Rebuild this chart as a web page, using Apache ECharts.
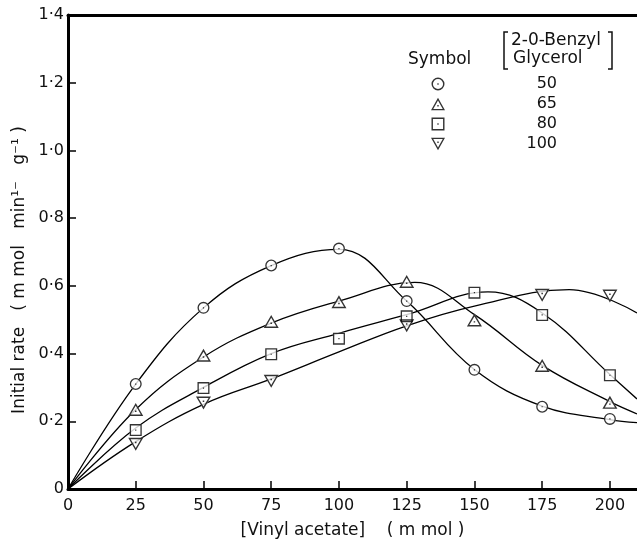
<!DOCTYPE html>
<html>
<head>
<meta charset="utf-8">
<script src="https://cdn.jsdelivr.net/npm/echarts@6/dist/echarts.min.js"></script>
<style>
  html, body { margin: 0; padding: 0; background: #fff; }
  #chart { width: 637px; height: 544px; }
</style>
</head>
<body>
<div id="chart"></div>
<script>
// [Vinyl acetate] (m mol) where the rates were measured
var vinylAcetate = [25, 50, 75, 100, 125, 150, 175, 200]

// measured initial rates, one array per [2-0-Benzyl Glycerol]
var rate50 = [0.31, 0.535, 0.66, 0.71, 0.555, 0.352, 0.243, 0.207]
var rate65 = [0.235, 0.395, 0.495, 0.553, 0.613, 0.499, 0.365, 0.256]
var rate80 = [0.174, 0.298, 0.398, 0.444, 0.51, 0.58, 0.514, 0.336]
var rate100 = [0.132, 0.254, 0.318, null, 0.482, null, 0.572, 0.57]

// fitted curves as drawn in the figure, [x, y]
var curve50 = [[0, 0], [25, 0.31], [50, 0.535], [75, 0.66], [100, 0.708], [125, 0.555],
  [150, 0.353], [175, 0.245], [200, 0.205], [210, 0.196]]
var curve65 = [[0, 0], [25, 0.235], [50, 0.39], [75, 0.49], [100, 0.555], [128, 0.61],
  [150, 0.515], [175, 0.365], [200, 0.258], [210, 0.222]]
var curve80 = [[0, 0], [25, 0.18], [50, 0.3], [75, 0.4], [100, 0.46], [125, 0.515], [155, 0.582],
  [175, 0.52], [200, 0.338], [210, 0.266]]
var curve100 = [[0, 0], [25, 0.14], [50, 0.25], [75, 0.325], [100, 0.405], [125, 0.482], [150, 0.54],
  [185, 0.589], [210, 0.52]]

var groups = ['50', '65', '80', '100']

var FONT = 'DejaVu Sans'

// outline symbols with the little centre dot
var rings = [
  'path://M10,0A10,10 0 1 1 10,20A10,10 0 1 1 10,0ZM10,2.2A7.8,7.8 0 1 0 10,17.8A7.8,7.8 0 1 0 10,2.2ZM9,9L11,9L11,11L9,11Z',
  'path://M10,0L20,18L0,18ZM10,4L3.2,16L16.8,16ZM9,10.5L11,10.5L11,12.5L9,12.5Z',
  'path://M0,0L20,0L20,20L0,20ZM2.2,2.2L2.2,17.8L17.8,17.8L17.8,2.2ZM9,9L11,9L11,11L9,11Z',
  'path://M0,0L20,0L10,18ZM3.2,2L10,14L16.8,2ZM9,5.5L11,5.5L11,7.5L9,7.5Z'
]
var fills = ['circle', 'path://M10,0L20,18L0,18Z', 'rect', 'path://M0,0L20,0L10,18Z']
var sizes = [12, [15, 13], 12, [15, 13]]

function pairs(ys) {
  var out = []
  ys.forEach(function (y, i) {
    if (y != null) out.push([vinylAcetate[i], y])
  })
  return out
}

var rates = [rate50, rate65, rate80, rate100]
var curves = [curve50, curve65, curve80, curve100]

var series = []
curves.forEach(function (c) {
  series.push({
    type: 'line', data: c, showSymbol: false, smooth: 0.4, silent: true, z: 1,
    lineStyle: { color: '#000', width: 1.3 }
  })
})
rates.forEach(function (r, i) {
  // white body hides the curve inside the marker
  series.push({
    type: 'scatter', data: pairs(r), symbol: fills[i], symbolSize: sizes[i], silent: true, z: 2,
    itemStyle: { color: '#fff' }
  })
  series.push({
    type: 'scatter', name: groups[i], data: pairs(r), symbol: rings[i], symbolSize: sizes[i], z: 3,
    itemStyle: { color: '#000' }
  })
})

var chart = echarts.init(document.getElementById('chart'))
chart.setOption({
  animation: false,
  backgroundColor: '#fff',
  grid: { left: 68, right: 0, top: 15, bottom: 50 },
  legend: {
    orient: 'vertical', left: 426, top: 70, itemWidth: 14, itemHeight: 13, itemGap: 2,
    selectedMode: false,
    data: groups.map(function (g, i) { return { name: g, icon: rings[i] } }),
    itemStyle: { color: '#000', borderWidth: 0 },
    formatter: function (n) { return '{v|' + n + '}' },
    textStyle: {
      color: '#111', fontFamily: FONT, fontSize: 16, lineHeight: 18,
      rich: { v: { width: 107, align: 'right', fontFamily: FONT, fontSize: 16, color: '#111' } }
    }
  },
  graphic: [
    { type: 'text', left: 408, top: 51, style: { text: 'Symbol', font: '17px "DejaVu Sans"', fill: '#111' } },
    { type: 'text', left: 511, top: 32, style: { text: '2-0-Benzyl', font: '17px "DejaVu Sans"', fill: '#111' } },
    { type: 'text', left: 513, top: 50, style: { text: 'Glycerol', font: '17px "DejaVu Sans"', fill: '#111' } },
    { type: 'polyline', shape: { points: [[508, 32], [504, 32], [504, 69], [508, 69]] }, style: { stroke: '#111', lineWidth: 1.5, fill: null } },
    { type: 'polyline', shape: { points: [[608, 32], [612, 32], [612, 69], [608, 69]] }, style: { stroke: '#111', lineWidth: 1.5, fill: null } }
  ],
  xAxis: [{
    type: 'value', min: 0, max: 210, interval: 25,
    axisLine: { lineStyle: { color: '#000', width: 3 } },
    axisTick: { inside: true, length: 8, lineStyle: { color: '#000', width: 1.5 } },
    axisLabel: { margin: 9, color: '#111', fontSize: 16, fontFamily: FONT, showMaxLabel: false },
    splitLine: { show: false },
    name: '[Vinyl acetate]    ( m mol )', nameLocation: 'middle', nameGap: 33,
    nameTextStyle: { color: '#111', fontSize: 17, fontFamily: FONT }
  }, {
    type: 'value', position: 'top', min: 0, max: 210,
    axisLine: { show: true, lineStyle: { color: '#000', width: 3 } },
    axisTick: { show: false }, axisLabel: { show: false }, splitLine: { show: false }
  }],
  yAxis: {
    type: 'value', min: 0, max: 1.4, interval: 0.2,
    axisLine: { show: true, lineStyle: { color: '#000', width: 3 } },
    axisTick: { show: true, inside: true, length: 8, lineStyle: { color: '#000', width: 1.5 } },
    axisLabel: {
      margin: 4, color: '#111', fontSize: 16, fontFamily: FONT,
      formatter: function (v) { return v === 0 ? '0' : v.toFixed(1).replace('.', '·') }
    },
    splitLine: { show: false },
    name: 'Initial rate   ( m mol   min¹⁻   g⁻¹ )', nameLocation: 'middle', nameGap: 33, nameRotate: 90,
    nameTextStyle: { color: '#111', fontSize: 17, fontFamily: FONT, padding: [0, 36, 0, 0] }
  },
  series: series
})
</script>
</body>
</html>
